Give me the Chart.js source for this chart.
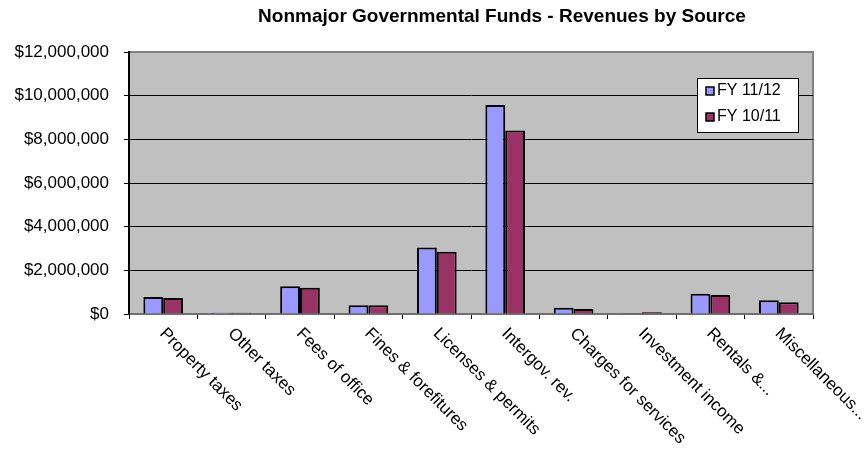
<!doctype html>
<html>
	<head>
		<meta charset="utf-8" />
		<title>Nonmajor Governmental Funds - Revenues by Source</title>
		<script src="https://cdn.jsdelivr.net/npm/chart.js@4.4.1/dist/chart.umd.min.js"></script>
		<style>
			html,
			body {
				margin: 0;
				padding: 0;
				background: #fff;
			}
			#wrap {
				width: 867px;
				height: 452px;
				position: relative;
			}
		</style>
	</head>
	<body>
		<div id="wrap"><canvas id="revenueChart"></canvas></div>

		<script>
			// revenue sources and amounts (dollars)
			const categories = [
				"Property taxes",
				"Other taxes",
				"Fees of office",
				"Fines & forefitures",
				"Licenses & permits",
				"Intergov. rev.",
				"Charges for services",
				"Investment income",
				"Rentals &...",
				"Miscellaneous...",
			];
			const fy1112 = [780000, 60000, 1270000, 400000, 3050000, 9570000, 290000, 30000, 930000, 630000];
			const fy1011 = [730000, 60000, 1200000, 400000, 2850000, 8400000, 230000, 80000, 870000, 540000];
			const seriesNames = ["FY 11/12", "FY 10/11"];
			const seriesColors = ["#9999FF", "#993366"];
			const yTicks = [0, 2000000, 4000000, 6000000, 8000000, 10000000, 12000000];
			const chartTitle = "Nonmajor Governmental Funds - Revenues by Source";

			const FONT = "'Liberation Sans', Arial, sans-serif";

			// grey plot background + right/top frame
			const plotArea = {
				id: "plotArea",
				beforeDraw(chart) {
					const { ctx, chartArea: a } = chart;
					ctx.save();
					ctx.fillStyle = "#C0C0C0";
					ctx.fillRect(a.left, a.top, a.right - a.left, a.bottom - a.top);
					ctx.strokeStyle = "#808080";
					ctx.lineWidth = 2;
					ctx.beginPath();
					ctx.moveTo(a.left, a.top);
					ctx.lineTo(a.right, a.top);
					ctx.lineTo(a.right, a.bottom);
					ctx.stroke();
					ctx.restore();
				},
			};

			// title, slanted category labels and boxed legend
			const decorations = {
				id: "decorations",
				afterDraw(chart) {
					const { ctx, chartArea: a } = chart;
					const xs = chart.scales.x;
					ctx.save();

					ctx.fillStyle = "#000";
					ctx.font = "bold 19px " + FONT;
					ctx.textAlign = "center";
					ctx.textBaseline = "middle";
					ctx.fillText(chartTitle, 502, 17);

					ctx.font = "17px " + FONT;
					ctx.textAlign = "left";
					ctx.textBaseline = "top";
					categories.forEach((label, i) => {
						const x = xs.getPixelForValue(i);
						ctx.save();
						ctx.translate(x + 5, a.bottom + 11);
						ctx.rotate(Math.PI / 4);
						ctx.fillText(label, 0, 0);
						ctx.restore();
					});

					// legend
					const lx = 697, ly = 78, lw = 101, lh = 54;
					ctx.fillStyle = "#fff";
					ctx.fillRect(lx, ly, lw, lh);
					ctx.strokeStyle = "#000";
					ctx.lineWidth = 1;
					ctx.strokeRect(lx + 0.5, ly + 0.5, lw, lh);
					ctx.font = "16px " + FONT;
					ctx.textBaseline = "middle";
					seriesNames.forEach((name, i) => {
						const cy = ly + 13 + i * 26;
						ctx.fillStyle = seriesColors[i];
						ctx.fillRect(lx + 9, cy - 4, 8, 8);
						ctx.strokeStyle = "#000";
						ctx.lineWidth = 1.5;
						ctx.strokeRect(lx + 9, cy - 4, 8, 8);
						ctx.fillStyle = "#000";
						ctx.fillText(name, lx + 20, cy);
					});

					ctx.restore();
				},
			};

			new Chart(document.getElementById("revenueChart"), {
				type: "bar",
				data: {
					labels: categories,
					datasets: [
						{ label: seriesNames[0], data: fy1112, backgroundColor: seriesColors[0] },
						{ label: seriesNames[1], data: fy1011, backgroundColor: seriesColors[1] },
					].map((d) => ({
						...d,
						borderColor: "#000",
						borderWidth: 2,
						categoryPercentage: 0.58,
						barPercentage: 1,
					})),
				},
				options: {
					responsive: true,
					maintainAspectRatio: false,
					animation: false,
					layout: { padding: { top: 52, right: 54, left: 0, bottom: 0 } },
					plugins: {
						legend: { display: false },
						title: { display: false },
						tooltip: { enabled: false },
					},
					scales: {
						x: {
							grid: {
								offset: true,
								drawOnChartArea: false,
								color: "#000",
								tickLength: 5,
							},
							border: { color: "#707070", width: 2 },
							ticks: { display: false },
							afterFit(scale) {
								scale.height = 138;
							},
						},
						y: {
							min: 0,
							max: 12000000,
							afterBuildTicks(scale) {
								scale.ticks = yTicks.map((v) => ({ value: v }));
							},
							grid: {
								color: (c) => (c.tick && c.tick.value === 12000000 ? "#808080" : "#000"),
								tickLength: 5,
								tickColor: "#000",
							},
							border: { color: "#000", width: 2 },
							ticks: {
								color: "#000",
								padding: 15,
								font: { family: FONT, size: 17 },
								callback: (v) => "$" + Number(v).toLocaleString("en-US"),
							},
							afterFit(scale) {
								scale.width = 129;
							},
						},
					},
				},
				plugins: [plotArea, decorations],
			});
		</script>
	</body>
</html>
